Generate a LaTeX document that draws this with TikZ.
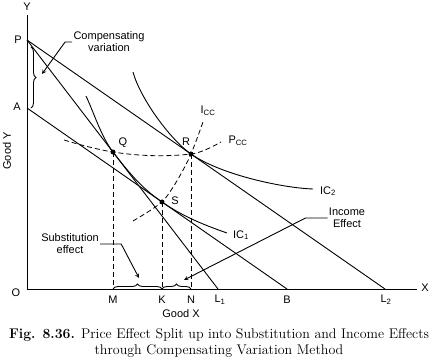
\documentclass[tikz,border=0pt]{standalone}
\usepackage{fontspec}
\setsansfont{Liberation Sans}
\usetikzlibrary{decorations.pathreplacing}

\begin{document}
\begin{tikzpicture}[x=1pt,y=-1pt,>=stealth,line width=0.9pt,
    every node/.style={font=\sffamily\fontsize{11}{12}\selectfont,inner sep=1pt},
    dot node/.style={circle,fill,inner sep=0pt,minimum size=5pt},
    guide/.style={dash pattern=on 5pt off 3pt,line width=0.8pt},
    brace/.style={decorate,decoration={brace,amplitude=5pt}}]
    \useasboundingbox (0,0) rectangle (432,363);

    \coordinate (O) at (27,289);
    \coordinate (Ytop) at (27,15);
    \coordinate (Xend) at (417,289);
    \coordinate (P) at (27,40);
    \coordinate (A) at (27,108);
    \coordinate (L1) at (218,289);
    \coordinate (B) at (287,289);
    \coordinate (L2) at (385,289);
    \coordinate (Q) at (113,152);
    \coordinate (R) at (191,154);
    \coordinate (S) at (162,202);
    \coordinate (M) at (113,289);
    \coordinate (K) at (162,289);
    \coordinate (N) at (191,289);

    \node (ylab) at (27,7) {Y};
    \node (xlab) at (425,288) {X};
    \node (olab) at (16,293) {O};
    \node (plab) at (18,40) {P};
    \node (alab) at (17,107) {A};
    \node (mlab) at (113,300) {M};
    \node (klab) at (162,300) {K};
    \node (nlab) at (191,300) {N};
    \node (l1lab) at (220,300) {L\textsubscript{1}};
    \node (blab) at (287,300) {B};
    \node (l2lab) at (386,300) {L\textsubscript{2}};
    \node (goodx) at (181,314) {Good X};
    \node[rotate=90] (goody) at (7,151) {Good Y};

    \draw (Ytop) -- (O) -- (Xend);
    \draw (P) -- (L1);
    \draw (P) -- (L2);
    \draw (A) -- (B);

    % indifference curves
    \coordinate (ic1a) at (86,96);
    \coordinate (ic1b) at (227,233);
    \coordinate (ic2a) at (133,72);
    \coordinate (ic2b) at (313,189);
    \draw (ic1a) .. controls (94,113) and (101,136.3) .. (Q)
        .. controls (133,178) and (144,189.5) .. (S)
        .. controls (184,217.3) and (207,226) .. (ic1b);
    \draw (ic2a) .. controls (140,98) and (170,139.4) .. (R)
        .. controls (221,174.9) and (283,188) .. (ic2b);
    \node (ic1lab) at (241,235) {IC\textsubscript{1}};
    \node (ic2lab) at (328,191) {IC\textsubscript{2}};

    % consumption curves
    \coordinate (pccL) at (64,140);
    \coordinate (pccR) at (221,142);
    \coordinate (iccB) at (133,221);
    \coordinate (iccT) at (203,122);
    \draw[guide] (pccL) .. controls (80,145) and (101,150.2) .. (Q)
        .. controls (138,156) and (165,157) .. (R)
        .. controls (201,152.8) and (212,147) .. (pccR);
    \draw[guide] (iccB) .. controls (143,215) and (155,208) .. (S)
        .. controls (170,194) and (184,170) .. (R)
        .. controls (196,142) and (199,133) .. (iccT);
    \node (icclab) at (208,111) {I\textsubscript{CC}};
    \node (pcclab) at (238,141) {P\textsubscript{CC}};

    \draw[guide] (Q) -- (M);
    \draw[guide] (S) -- (K);
    \draw[guide] (R) -- (N);

    \node[dot node] (dq) at (Q) {};
    \node[dot node] (dr) at (R) {};
    \node[dot node] (ds) at (S) {};
    \node (qlab) at (123,143) {Q};
    \node (rlab) at (186,142) {R};
    \node (slab) at (175,201) {S};

    % braces and notes
    \coordinate (cvtop) at (31,47);
    \coordinate (cvbot) at (31,108);
    \draw[brace] (cvtop) -- (cvbot);
    \draw[brace] (M) -- (K);
    \draw[brace] (K) -- (N);

    \node[align=center] (cv) at (109,42) {Compensating\\variation};
    \node[align=center] (se) at (70,244) {Substitution\\effect};
    \node[align=center] (ie) at (347,218) {Income\\Effect};
    \coordinate (cvtip) at (42,74);
    \coordinate (setip) at (139,278);
    \coordinate (ietip) at (184,280);
    \draw[->] (cv.west) -- ++(-7,0) -- (cvtip);
    \draw[->] (se.east) -- ++(21,0) -- (setip);
    \draw[->] (ie.west) -- ++(-22,0) -- (ietip);

    \node[align=center,font=\rmfamily\fontsize{14}{16}\selectfont] (cap) at (219,343)
        {\textbf{Fig. 8.36.} Price Effect Split up into Substitution and Income Effects\\
         through Compensating Variation Method};
\end{tikzpicture}
\end{document}
